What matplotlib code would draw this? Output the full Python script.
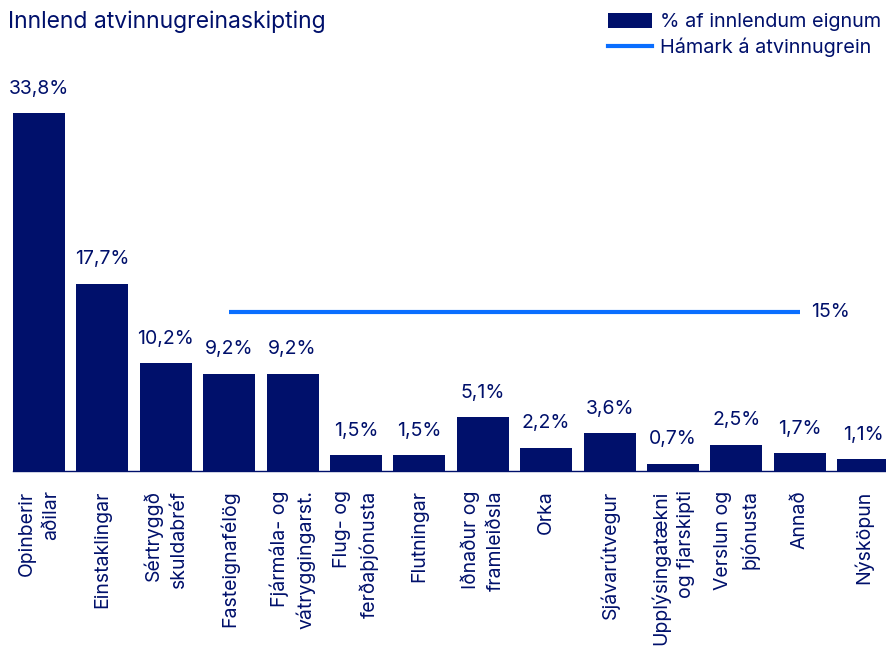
import matplotlib
matplotlib.use("Agg")
import matplotlib.pyplot as plt
from matplotlib.patches import Patch
from matplotlib.lines import Line2D

categories = ["Opinberir\naðilar", "Einstaklingar", "Sértryggð\nskuldabréf", "Fasteignafélög",
              "Fjármála- og\nvátryggingarst.", "Flug- og\nferðaþjónusta", "Flutningar",
              "Iðnaður og\nframleiðsla", "Orka", "Sjávarútvegur", "Upplýsingatækni\nog fjarskipti",
              "Verslun og\nþjónusta", "Annað", "Nýsköpun"]
values = [33.8, 17.7, 10.2, 9.2, 9.2, 1.5, 1.5, 5.1, 2.2, 3.6, 0.7, 2.5, 1.7, 1.1]
value_labels = ["33,8%", "17,7%", "10,2%", "9,2%", "9,2%", "1,5%", "1,5%", "5,1%", "2,2%",
                "3,6%", "0,7%", "2,5%", "1,7%", "1,1%"]
limit_value = 15
limit_label = "15%"
limit_start, limit_end = 3, 12

NAVY = "#00106B"
BLUE = "#0A6EFF"

plt.rcParams['font.family'] = ['Inter', 'DejaVu Sans']

fig = plt.figure(figsize=(8.86, 6.46), dpi=100)
ax = fig.add_axes([13/886, (646-471)/646, (886-13)/886, 411/646])

x = list(range(len(values)))
bars = ax.bar(x, values, width=0.82, color=NAVY, zorder=2)
for b, lab in zip(bars, value_labels):
    ax.annotate(lab, (b.get_x() + b.get_width()/2, b.get_height()), xytext=(0, 11),
                textcoords="offset points", ha="center", va="bottom", fontsize=14, color=NAVY)

ax.hlines(limit_value, limit_start, limit_end, color=BLUE, linewidth=3, zorder=3)
ax.annotate(limit_label, (limit_end, limit_value), xytext=(8, 0), textcoords="offset points",
            ha="left", va="center", fontsize=14, color=NAVY)

ax.set_xlim(-0.41, 13.36)
ax.set_ylim(0, 38.8)
ax.set_xticks(x)
ax.set_xticklabels(categories, rotation=90, ha="center", va="top", multialignment="right",
                   fontsize=14, color=NAVY, linespacing=1.5)
ax.tick_params(axis="x", length=0, pad=14)
ax.set_yticks([])
for s in ["top", "right", "left"]:
    ax.spines[s].set_visible(False)
ax.spines["bottom"].set_color(NAVY)
ax.spines["bottom"].set_linewidth(1)

fig.text(8/886, 1 - 22/646, "Innlend atvinnugreinaskipting", fontsize=16.5, color=NAVY,
         ha="left", va="center")

handles = [Patch(facecolor=NAVY, edgecolor="none"), Line2D([0], [0], color=BLUE, linewidth=3)]
leg = fig.legend(handles, ["% af innlendum eignum", "Hámark á atvinnugrein"],
                 loc="upper right", bbox_to_anchor=(1.0, 1.0 - 8/646), frameon=False, fontsize=14.3,
                 handlelength=2.2, handleheight=0.8, handletextpad=0.4, labelspacing=0.3,
                 borderaxespad=0.0, borderpad=0.25)
for t in leg.get_texts():
    t.set_color(NAVY)

fig.savefig("out.png", dpi=100)
